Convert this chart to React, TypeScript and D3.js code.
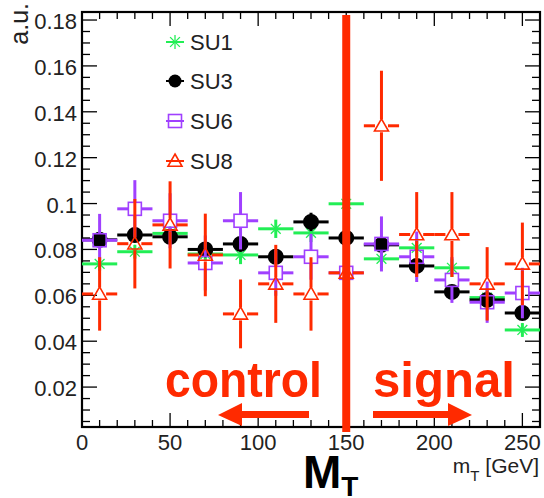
import React from 'react';
import * as d3 from 'd3';

// bin centres [GeV], 20 GeV wide bins
const binCenters = [10, 30, 50, 70, 90, 110, 130, 150, 170, 190, 210, 230, 250];
const binHalfWidth = 10;

const su1Values = [0.0737, 0.079, 0.087, 0.078, 0.0776, 0.089, 0.0872, 0.0999, 0.0759, 0.0807, 0.072, 0.059, 0.0449];
const su1Errors = [0.003, 0.003, 0.003, 0.003, 0.004, 0.004, 0.004, 0.003, 0.004, 0.004, 0.004, 0.004, 0.003];
const su3Values = [0.0842, 0.0863, 0.0855, 0.08, 0.0824, 0.0768, 0.092, 0.085, 0.082, 0.0728, 0.0615, 0.058, 0.0523];
const su3Errors = [0.003, 0.003, 0.003, 0.003, 0.003, 0.003, 0.004, 0.003, 0.003, 0.003, 0.003, 0.003, 0.003];
const su6Values = [0.084, 0.0977, 0.0925, 0.0741, 0.0925, 0.0698, 0.0768, 0.0698, 0.0824, 0.0768, 0.0667, 0.057, 0.061];
const su6Errors = [0.0115, 0.0125, 0.012, 0.012, 0.0125, 0.01, 0.01, 0.01, 0.012, 0.011, 0.01, 0.009, 0.011];
const su8Values = [0.0606, 0.0825, 0.0907, 0.0776, 0.0519, 0.065, 0.0606, 0.0698, 0.1339, 0.0865, 0.0865, 0.065, 0.0737];
const su8Errors = [0.016, 0.0195, 0.019, 0.018, 0.015, 0.017, 0.016, 0.018, 0.024, 0.0185, 0.0185, 0.016, 0.018];

const xTicks = [0, 50, 100, 150, 200, 250];
const yTicks = [0.02, 0.04, 0.06, 0.08, 0.1, 0.12, 0.14, 0.16, 0.18];
const yTickLabels = ['0.02', '0.04', '0.06', '0.08', '0.1', '0.12', '0.14', '0.16', '0.18'];

const RED = '#ff2a00';
const FONT = 'Liberation Sans, Arial, sans-serif';

const series = [
  { name: 'SU1', values: su1Values, errors: su1Errors, color: '#22ee55', marker: 'star' },
  { name: 'SU3', values: su3Values, errors: su3Errors, color: '#000000', marker: 'circle' },
  { name: 'SU6', values: su6Values, errors: su6Errors, color: '#a040ff', marker: 'square' },
  { name: 'SU8', values: su8Values, errors: su8Errors, color: RED, marker: 'triangle' },
];

const x = d3.scaleLinear().domain([0, 260]).range([82, 540]);
const y = d3.scaleLinear().domain([0.0026, 0.1835]).range([427, 12]);

function Marker({ type, cx, cy, color }: { type: string; cx: number; cy: number; color: string }) {
  if (type === 'circle') return <circle cx={cx} cy={cy} r={6.5} fill={color} />;
  if (type === 'square')
    return <rect x={cx - 6.5} y={cy - 6.5} width={13} height={13} fill="none" stroke={color} strokeWidth={1.6} />;
  if (type === 'triangle') {
    const s = 7;
    return (
      <path
        d={`M${cx},${cy - s} L${cx + s},${cy + s * 0.75} L${cx - s},${cy + s * 0.75} Z`}
        fill="none"
        stroke={color}
        strokeWidth={1.6}
      />
    );
  }
  const r = 7;
  const d = r * 0.7;
  return (
    <g stroke={color} strokeWidth={1.3}>
      <line x1={cx - r} y1={cy} x2={cx + r} y2={cy} />
      <line x1={cx} y1={cy - r} x2={cx} y2={cy + r} />
      <line x1={cx - d} y1={cy - d} x2={cx + d} y2={cy + d} />
      <line x1={cx - d} y1={cy + d} x2={cx + d} y2={cy - d} />
    </g>
  );
}

function Series({ s }: { s: (typeof series)[number] }) {
  const gap = s.marker === 'star' ? 0 : 6.5;
  return (
    <g>
      {binCenters.map((c, i) => {
        const cx = x(c);
        const cy = y(s.values[i]);
        const yHi = y(s.values[i] + s.errors[i]);
        const yLo = y(s.values[i] - s.errors[i]);
        return (
          <g key={i} stroke={s.color} strokeWidth={3}>
            <line x1={x(c - binHalfWidth)} y1={cy} x2={cx - gap} y2={cy} />
            <line x1={cx + gap} y1={cy} x2={x(c + binHalfWidth)} y2={cy} />
            {yHi < cy - gap && <line x1={cx} y1={yHi} x2={cx} y2={cy - gap} />}
            {yLo > cy + gap && <line x1={cx} y1={cy + gap} x2={cx} y2={yLo} />}
            <Marker type={s.marker} cx={cx} cy={cy} color={s.color} />
          </g>
        );
      })}
    </g>
  );
}

export default function App() {
  const [x0, x1] = x.range();
  const [yb, yt] = y.range();
  const xMinor = d3.range(10, 260, 10);
  const yMinor = d3.range(0.005, 0.185, 0.005);

  return (
    <svg width={544} height={498} style={{ position: 'absolute', left: 0, top: 0, background: '#fff' }} fontFamily={FONT}>
      {/* frame ticks */}
      <g stroke="#000" strokeWidth={1.3}>
        {xMinor.map((t) => {
          const major = t % 50 === 0;
          const len = major ? 14 : 7;
          return (
            <g key={t}>
              <line x1={x(t)} y1={yb} x2={x(t)} y2={yb - len} />
              <line x1={x(t)} y1={yt} x2={x(t)} y2={yt + len} />
            </g>
          );
        })}
        {yMinor.map((t, i) => {
          const major = (i + 1) % 4 === 0;
          const len = major ? 15 : 8;
          return (
            <g key={i}>
              <line x1={x0} y1={y(t)} x2={x0 + len} y2={y(t)} />
              <line x1={x1} y1={y(t)} x2={x1 - len} y2={y(t)} />
            </g>
          );
        })}
      </g>
      <rect x={x0} y={yt} width={x1 - x0} height={yb - yt} fill="none" stroke="#000" strokeWidth={2.2} />

      {/* tick labels */}
      <g fontSize={22} fill="#222">
        {xTicks.map((t) => (
          <text key={t} x={x(t)} y={450} textAnchor="middle">
            {t}
          </text>
        ))}
        {yTicks.map((t, i) => (
          <text key={t} x={77} y={y(t) + 9} textAnchor="end">
            {yTickLabels[i]}
          </text>
        ))}
      </g>
      <text transform="translate(28,3) rotate(-90)" textAnchor="end" fontSize={25} fill="#222">
        a.u.
      </text>
      <text x={539} y={473} textAnchor="end" fontSize={21} fill="#222">
        m<tspan fontSize={15} dy={8}>T</tspan>
        <tspan dy={-8}> [GeV]</tspan>
      </text>

      {/* data */}
      {series.map((s) => (
        <Series key={s.name} s={s} />
      ))}

      {/* legend */}
      {series.map((s, i) => {
        const ly = [42, 81, 121, 161][i];
        return (
          <g key={s.name}>
            <line x1={166} y1={ly} x2={184} y2={ly} stroke={s.color} strokeWidth={2} />
            <Marker type={s.marker} cx={175} cy={ly} color={s.color} />
            <text x={190} y={ly + 8} fontSize={22} fill="#222">
              {s.name}
            </text>
          </g>
        );
      })}

      {/* M_T cut */}
      <line x1={x(150)} y1={15} x2={x(150)} y2={432} stroke={RED} strokeWidth={8} />
      <g fill={RED} fontWeight="bold" fontSize={50}>
        <text x={165} y={397} textLength={157} lengthAdjust="spacingAndGlyphs">control</text>
        <text x={373} y={397} textLength={142} lengthAdjust="spacingAndGlyphs">signal</text>
      </g>
      <path d="M309,411 L242,411 L242,403 L218,415 L242,426 L242,418 L309,418 Z" fill={RED} />
      <path d="M373,411 L448,411 L448,403 L472,415 L448,426 L448,418 L373,418 Z" fill={RED} />
      <text x={303} y={488} fontWeight="bold" fontSize={46} fill="#000">
        M<tspan fontSize={28} dy={8}>T</tspan>
      </text>
    </svg>
  );
}
